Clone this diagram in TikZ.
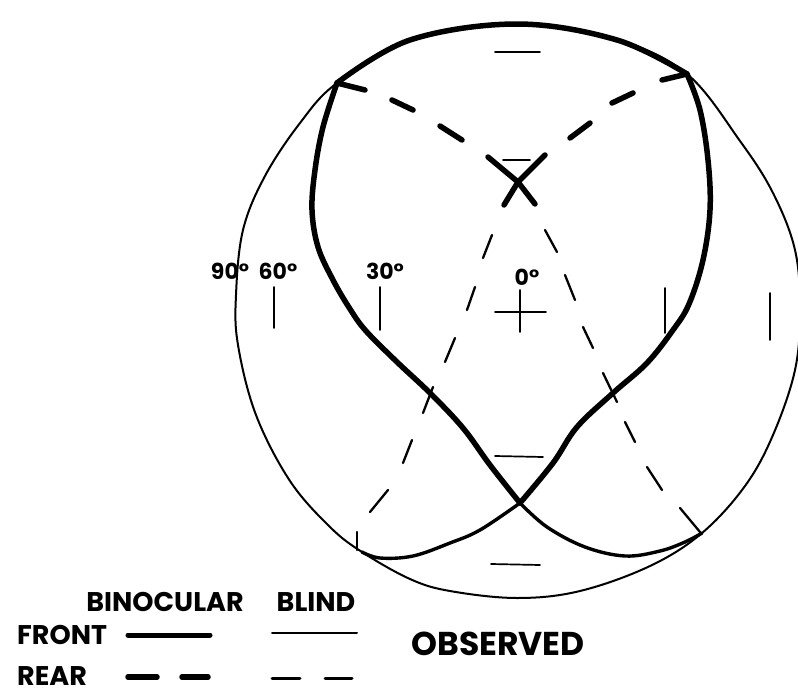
\documentclass[tikz,border=0pt]{standalone}
\usepackage{fontspec}
\setmainfont{Poppins}
\begin{document}
\begin{tikzpicture}[x=1pt,y=-1pt,line cap=round,line join=round,
  outline/.style={line width=2pt},
  heart/.style={line width=5.5pt},
  lowerarc/.style={line width=3.4pt},
  thickdash/.style={line width=5.5pt},
  thindash/.style={line width=2.3pt},
  tickmark/.style={line width=1.7pt},
  deg/.style={font=\bfseries\fontsize{22}{22}\selectfont,inner sep=0pt},
  lgd/.style={font=\bfseries\fontsize{27}{27}\selectfont,inner sep=0pt},
  obs/.style={font=\bfseries\fontsize{33}{33}\selectfont,inner sep=0pt}]
\useasboundingbox (0,0) rectangle (798,696);

% outer field boundary
\draw[outline] plot[smooth cycle,tension=0.6] coordinates {
 (517,24) (617,40) (687,74) (740,141) (773,193) (795,250) (800,310) (795,370)
 (773,435) (745,486) (702,533) (650,566) (580,591) (517,598) (450,591)
 (410,579) (362,552) (330,527) (290,481) (256,415) (238,345) (236,295)
 (243,230) (265,176) (300,123) (337,83) (410,40)};

% thick top arc along the boundary
\draw[heart] plot[smooth,tension=0.6] coordinates {
 (337,83) (410,40) (517,24) (617,40) (687,74)};

% binocular front (heart)
\draw[heart] plot[smooth,tension=0.6] coordinates {
 (337,83) (323,127) (315,170) (312,210) (318,247) (333,280) (350,309)
 (366,331) (397,362) (430,393) (463,428) (490,465) (520,503)};
\draw[heart] plot[smooth,tension=0.6] coordinates {
 (687,74) (700,110) (708,160) (710,210) (703,260) (689,304) (673,330)
 (647,363) (613,393) (577,427) (553,463) (520,503)};

% lower arcs
\draw[lowerarc] plot[smooth,tension=0.6] coordinates {
 (520,503) (547,527) (585,547) (625,556) (660,551) (685,542) (702,533)};
\draw[lowerarc] plot[smooth,tension=0.6] coordinates {
 (520,503) (480,530) (450,543) (413,556) (380,558) (362,552)};

% binocular rear (thick dashes)
\draw[thickdash] (337,83) -- (365,90);
\draw[thickdash] (392,100) -- (413,110);
\draw[thickdash] (440,126) -- (462,140);
\draw[thickdash] (687,74) -- (662,80);
\draw[thickdash] (633,93) -- (612,103);
\draw[thickdash] (590,123) -- (570,138);
\coordinate (X) at (518,182);
\draw[thickdash] (488,157) -- (X) -- (535,204);
\draw[thickdash] (545,155) -- (X) -- (504,205);

% blind rear (thin dashes)
\draw[thindash] (492,235) -- (483,258);
\draw[thindash] (475,287) -- (467,310);
\draw[thindash] (455,338) -- (445,362);
\draw[thindash] (433,387) -- (423,413);
\draw[thindash] (412,440) -- (403,463);
\draw[thindash] (388,490) -- (370,512);
\draw[thindash] (357,532) -- (357,550);
\draw[thindash] (545,230) -- (557,252);
\draw[thindash] (565,275) -- (575,300);
\draw[thindash] (583,327) -- (593,348);
\draw[thindash] (603,373) -- (617,402);
\draw[thindash] (625,422) -- (635,442);
\draw[thindash] (647,467) -- (662,490);
\draw[thindash] (680,508) -- (700,532);

% tick marks
\draw[tickmark] (274,287) -- (274,328);
\draw[tickmark] (380,287) -- (380,330);
\draw[tickmark] (520,290) -- (520,332);
\draw[tickmark] (495,312) -- (546,312);
\draw[tickmark] (665,288) -- (665,333);
\draw[tickmark] (770,293) -- (770,340);
\draw[tickmark] (495,52) -- (540,52);
\draw[tickmark] (503,160) -- (530,160);
\draw[tickmark] (495,456) -- (543,457);
\draw[tickmark] (491,564) -- (540,565);

% angle labels
\node[deg] (d90) at (230,271) {90°};
\node[deg] (d60) at (278,271) {60°};
\node[deg] (d30) at (385,271) {30°};
\node[deg] (d0) at (527,277) {0°};

% legend
\node[lgd] (binoc) at (165,602) {BINOCULAR};
\node[lgd] (blind) at (316,602) {BLIND};
\node[lgd,anchor=west] (front) at (17,635) {FRONT};
\node[lgd,anchor=west] (rear) at (17,676) {REAR};
\node[obs] (observed) at (498,644) {OBSERVED};
\draw[line width=5pt] (128,635) -- (210,635);
\draw[line width=2pt] (272,633) -- (357,633);
\draw[line width=5.5pt] (128,677) -- (157,677);
\draw[line width=5.5pt] (182,677) -- (208,677);
\draw[line width=3pt] (272,678) -- (300,678);
\draw[line width=3pt] (325,678) -- (352,678);
\end{tikzpicture}
\end{document}
